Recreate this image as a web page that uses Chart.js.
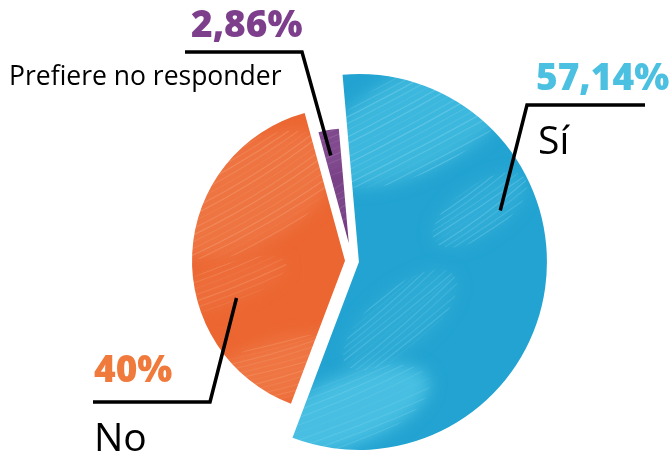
<!DOCTYPE html>
<html lang="es">
<head>
<meta charset="utf-8">
<title>¿Respuesta?</title>
<script src="https://cdn.jsdelivr.net/npm/chart.js@4/dist/chart.umd.min.js"></script>
<style>
    html, body { margin: 0; padding: 0; background: #fff; }
    canvas { display: block; }
</style>
</head>
<body>
<canvas id="_dm-pieChart" width="670" height="457"></canvas>
<script>
// Data
// ----------------------------------------------
const categories  = ['Sí', 'No', 'Prefiere no responder'];
const shares      = [57.14, 40, 2.86];
const shareLabels = shares.map(v => String(v).replace('.', ',') + '%');

// Slice look
// ----------------------------------------------
const sliceBase    = ['#22a3d1', '#ec6631', '#733a80'];
const sliceLight   = ['#4fc4e5', '#f28556', '#93609f'];
const labelColors  = ['#4cc0e1', '#f07a3c', '#7d3f8b'];
const sliceRadius  = [188, 153, 115];   // px, per slice
const sliceExplode = [7, 7, 18];        // px, pushed out along the mid angle

// Callout layout: leader starts inside the slice (angle in deg, reach = share of radius)
const callouts = [
    { angle: -20,    reach: 0.80, elbow: [527, 105], end: [645, 105], pct: [536, 90], name: [538, 154] },
    { angle: 161,    reach: 0.75, elbow: [210, 402], end: [93, 402],  pct: [94, 382], name: [94, 451] },
    { angle: -101.6, reach: 0.78, elbow: [302, 52],  end: [185, 52],  pct: [191, 37], name: [9, 85], small: true }
];

// Brush texture, drawn once per colour into a canvas-sized pattern
// ----------------------------------------------
const W = 670, H = 457;
const mainCtx = document.getElementById('_dm-pieChart').getContext('2d');

function brushBand(g, b) {
    g.save();
    g.translate(b.x, b.y);
    g.rotate(b.angle * Math.PI / 180);

    // soft wash of the lighter tone
    g.save();
    g.filter = 'blur(8px)';
    g.globalAlpha = b.alpha;
    g.fillStyle = b.fill;
    g.beginPath();
    g.ellipse(0, 0, b.w / 2, b.h / 2, 0, 0, Math.PI * 2);
    g.fill();
    g.restore();

    // bristle streaks
    g.beginPath();
    g.ellipse(0, 0, b.w / 2, b.h / 2, 0, 0, Math.PI * 2);
    g.clip();
    g.strokeStyle = b.line;
    g.lineWidth = 1.2;
    for (let k = -b.h / 2; k < b.h / 2; k += b.gap) {
        g.globalAlpha = 0.08 + 0.25 * Math.abs(Math.sin(k * 0.37));
        g.beginPath();
        g.moveTo(-b.w / 2, k);
        g.quadraticCurveTo(0, k + b.bend, b.w / 2, k + Math.sin(k) * 3);
        g.stroke();
    }
    g.restore();
}

function brushPattern(base, bands) {
    const c = document.createElement('canvas');
    c.width = W; c.height = H;
    const g = c.getContext('2d');
    g.fillStyle = base;
    g.fillRect(0, 0, W, H);
    bands.forEach(b => brushBand(g, b));
    return mainCtx.createPattern(c, 'no-repeat');
}

const blueFill = brushPattern(sliceBase[0], [
    { x: 420, y: 120, w: 220, h: 100, angle: -28, fill: sliceLight[0], line: '#9be0f2', alpha: 0.6,  gap: 6, bend: 4 },
    { x: 480, y: 210, w: 110, h: 50,  angle: -35, fill: sliceLight[0], line: '#8fd9ee', alpha: 0.3,  gap: 5, bend: 3 },
    { x: 350, y: 410, w: 170, h: 70,  angle: -22, fill: sliceLight[0], line: '#7fd3ec', alpha: 0.85, gap: 7, bend: 6 },
    { x: 400, y: 320, w: 140, h: 60,  angle: -40, fill: sliceLight[0], line: '#7fd3ec', alpha: 0.25, gap: 5, bend: 3 }
]);
const orangeFill = brushPattern(sliceBase[1], [
    { x: 250, y: 195, w: 190, h: 100, angle: -30, fill: sliceLight[1], line: '#f7b590', alpha: 0.45, gap: 6, bend: 10 },
    { x: 280, y: 370, w: 150, h: 60,  angle: -15, fill: sliceLight[1], line: '#f6a77c', alpha: 0.5,  gap: 5, bend: 6 },
    { x: 225, y: 285, w: 130, h: 40,  angle: -20, fill: sliceLight[1], line: '#f6a77c', alpha: 0.25, gap: 6, bend: 4 }
]);
const purpleFill = brushPattern(sliceBase[2], [
    { x: 330, y: 150, w: 100, h: 50, angle: -20, fill: sliceLight[2], line: '#a97fb3', alpha: 0.45, gap: 6, bend: 4 },
    { x: 335, y: 205, w: 80,  h: 40, angle: -30, fill: sliceLight[2], line: '#a97fb3', alpha: 0.3,  gap: 5, bend: 3 }
]);

// Exploded slices with their own radius
// ----------------------------------------------
const sliceShape = {
    id: 'sliceShape',
    beforeDatasetsDraw(chart) {
        const area = chart.chartArea;
        const cx = (area.left + area.right) / 2;
        const cy = (area.top + area.bottom) / 2;
        chart.getDatasetMeta(0).data.forEach((arc, i) => {
            const mid = (arc.startAngle + arc.endAngle) / 2;
            arc.x = cx + Math.cos(mid) * sliceExplode[i];
            arc.y = cy + Math.sin(mid) * sliceExplode[i];
            arc.outerRadius = sliceRadius[i];
        });
    }
};

// Percent + category callouts
// ----------------------------------------------
const calloutLabels = {
    id: 'calloutLabels',
    afterDatasetsDraw(chart) {
        const ctx = chart.ctx;
        const arcs = chart.getDatasetMeta(0).data;
        ctx.save();
        callouts.forEach((c, i) => {
            const arc = arcs[i];
            const a = c.angle * Math.PI / 180;
            const ax = arc.x + Math.cos(a) * arc.outerRadius * c.reach;
            const ay = arc.y + Math.sin(a) * arc.outerRadius * c.reach;

            ctx.strokeStyle = '#000';
            ctx.lineWidth = 3.5;
            ctx.lineJoin = 'miter';
            ctx.beginPath();
            ctx.moveTo(ax, ay);
            ctx.lineTo(c.elbow[0], c.elbow[1]);
            ctx.lineTo(c.end[0], c.end[1]);
            ctx.stroke();

            ctx.textAlign = 'left';
            ctx.textBaseline = 'alphabetic';
            ctx.fillStyle = labelColors[i];
            ctx.font = '800 37px "Open Sans", "Noto Sans", sans-serif';
            ctx.fillText(shareLabels[i], c.pct[0], c.pct[1]);

            ctx.fillStyle = '#000';
            ctx.font = (c.small ? '26.5px' : '39px') + ' "Open Sans", "Noto Sans", sans-serif';
            ctx.fillText(categories[i], c.name[0], c.name[1]);
        });
        ctx.restore();
    }
};

const pieChart = new Chart(
    document.getElementById('_dm-pieChart'), {
        type: 'pie',
        data: {
            labels: categories,
            datasets: [
                {
                    data: shares,
                    backgroundColor: [blueFill, orangeFill, purpleFill],
                    borderWidth: 0
                }
            ]
        },
        options: {
            responsive: false,
            animation: false,
            events: [],
            rotation: -5,
            radius: 188,
            layout: {
                padding: { left: 34, top: 65, right: 0, bottom: 0 }
            },
            plugins: {
                legend: { display: false },
                tooltip: { enabled: false }
            }
        },
        plugins: [sliceShape, calloutLabels]
    }
);
</script>
</body>
</html>
